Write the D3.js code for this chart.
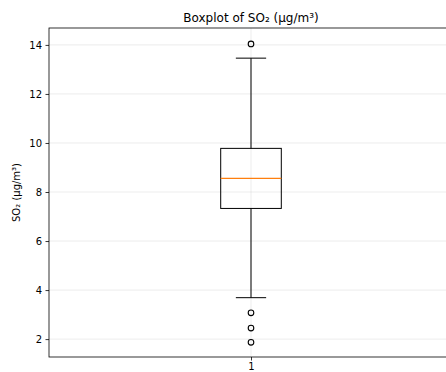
<!DOCTYPE html>
<html>
<head>
<meta charset="utf-8">
<script src="https://cdn.jsdelivr.net/npm/d3@7"></script>
<style>
  body { margin: 0; background: #fff; }
  text { font-family: "DejaVu Sans", sans-serif; fill: #000; }
</style>
</head>
<body>
<svg width="446" height="372"></svg>
<script>
// box statistics
const categories = ["1"];
const boxStats = [{q1: 7.33, median: 8.56, q3: 9.78, whiskerLow: 3.69, whiskerHigh: 13.46}];
const outliers = [14.04, 3.07, 2.45, 1.87];
const yTicks = [2, 4, 6, 8, 10, 12, 14];

const svg = d3.select("svg");
const width = 446, height = 372;
const margin = {top: 28, right: -7, bottom: 15, left: 49};
const innerWidth = width - margin.left - margin.right;
const innerHeight = height - margin.top - margin.bottom;

const x = d3.scaleLinear().domain([0.5, 1.5]).range([0, innerWidth]);
const y = d3.scaleLinear().domain([1.27, 14.69]).range([innerHeight, 0]);

const g = svg.append("g")
  .attr("transform", `translate(${margin.left},${margin.top})`);

// grid
g.append("g").selectAll("line")
  .data(yTicks)
  .enter()
  .append("line")
    .attr("x1", 0).attr("x2", innerWidth)
    .attr("y1", d => y(d)).attr("y2", d => y(d))
    .style("stroke", "#b0b0b0").style("stroke-opacity", 0.3).style("stroke-width", 0.8);
g.append("line")
  .attr("x1", x(1)).attr("x2", x(1))
  .attr("y1", 0).attr("y2", innerHeight)
  .style("stroke", "#b0b0b0").style("stroke-opacity", 0.3).style("stroke-width", 0.8);

// axes
const yAxis = g.append("g")
  .call(d3.axisLeft(y).tickValues(yTicks).tickSize(3.5).tickPadding(3.5).tickFormat(d3.format("d")));
const xAxis = g.append("g")
  .attr("transform", `translate(0,${innerHeight})`)
  .call(d3.axisBottom(x).tickValues([1]).tickSize(3.5).tickPadding(2).tickFormat((d, i) => categories[i]));
[yAxis, xAxis].forEach(a => {
  a.select(".domain").remove();
  a.selectAll("line").style("stroke", "#000").style("stroke-width", 0.8);
  a.selectAll("text").style("font-size", "10px").style("font-family", "DejaVu Sans, sans-serif");
});

// box
const boxW = 0.15;
const bs = boxStats[0];
const box = g.append("g");
box.append("line")
  .attr("x1", x(1)).attr("x2", x(1))
  .attr("y1", y(bs.q3)).attr("y2", y(bs.whiskerHigh))
  .style("stroke", "#000");
box.append("line")
  .attr("x1", x(1)).attr("x2", x(1))
  .attr("y1", y(bs.q1)).attr("y2", y(bs.whiskerLow))
  .style("stroke", "#000");
box.selectAll(".cap")
  .data([bs.whiskerLow, bs.whiskerHigh])
  .enter()
  .append("line")
    .attr("class", "cap")
    .attr("x1", x(1 - boxW / 4)).attr("x2", x(1 + boxW / 4))
    .attr("y1", d => y(d)).attr("y2", d => y(d))
    .style("stroke", "#000");
box.append("rect")
  .attr("x", x(1 - boxW / 2))
  .attr("width", x(1 + boxW / 2) - x(1 - boxW / 2))
  .attr("y", y(bs.q3))
  .attr("height", y(bs.q1) - y(bs.q3))
  .style("fill", "none").style("stroke", "#000");
box.append("line")
  .attr("x1", x(1 - boxW / 2)).attr("x2", x(1 + boxW / 2))
  .attr("y1", y(bs.median)).attr("y2", y(bs.median))
  .style("stroke", "#ff7f0e").style("stroke-width", 1.3);

box.selectAll("circle")
  .data(outliers)
  .enter()
  .append("circle")
    .attr("cx", x(1)).attr("cy", d => y(d))
    .attr("r", 2.8)
    .style("fill", "none").style("stroke", "#000").style("stroke-width", 1.1);

// frame
g.append("rect")
  .attr("width", innerWidth).attr("height", innerHeight)
  .style("fill", "none").style("stroke", "#000").style("stroke-width", 0.8);

// title and label
svg.append("text")
  .attr("x", margin.left + x(1)).attr("y", 22)
  .attr("text-anchor", "middle")
  .style("font-size", "12px")
  .text("Boxplot of SO₂ (µg/m³)");
svg.append("text")
  .attr("transform", `translate(20,${margin.top + innerHeight / 2}) rotate(-90)`)
  .attr("text-anchor", "middle")
  .style("font-size", "10px")
  .text("SO₂ (µg/m³)");
</script>
</body>
</html>
